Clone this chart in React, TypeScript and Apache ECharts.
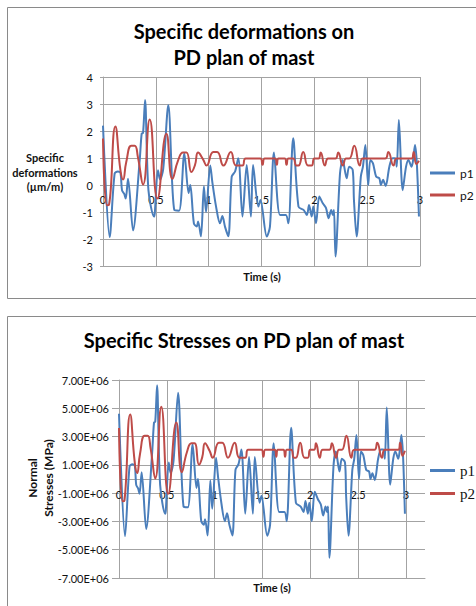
import React, { useEffect, useRef } from "react";
import * as echarts from "echarts";

const SANS = "Lato, 'Open Sans', 'DejaVu Sans', sans-serif";
const SERIF = "'Liberation Serif', 'DejaVu Serif', serif";
const BLUE = "#4a7ebb";
const RED = "#be4b48";
const GRID = "#a3a3a3";

// time (s) of p1 samples
const timeP1 = [
  0, 0.063, 0.11, 0.14, 0.165, 0.18, 0.2, 0.215, 0.237, 0.284,
  0.347, 0.366, 0.379, 0.398, 0.43, 0.483, 0.49, 0.52, 0.54, 0.57,
  0.618, 0.675, 0.72, 0.77, 0.81, 0.826, 0.86, 0.887, 0.9, 0.927,
  0.955, 0.975, 1.015, 1.035, 1.07, 1.107, 1.13, 1.155, 1.186, 1.218,
  1.25, 1.28, 1.32, 1.36, 1.4, 1.42, 1.47, 1.49, 1.55, 1.58,
  1.618, 1.675, 1.73, 1.754, 1.8, 1.85, 1.9, 1.93, 1.95, 1.975,
  1.99, 2.016, 2.047, 2.08, 2.11, 2.135, 2.16, 2.175, 2.186, 2.2,
  2.243, 2.268, 2.306, 2.33, 2.363, 2.375, 2.4, 2.44, 2.46, 2.483,
  2.51, 2.53, 2.555, 2.585, 2.615, 2.63, 2.65, 2.675, 2.71, 2.74,
  2.765, 2.78, 2.8, 2.836, 2.868, 2.89, 2.92, 2.935, 2.953, 2.97, 2.99,
];
// specific deformation p1 (µm/m)
const strainP1 = [
  2.2, -1.93, 0.42, 0.5, 0.45, -0.2, -0.32, -0.5, 0.23, -1.68,
  0.9, 1.9, 1.93, 3.15, -0.19, -1.17, -1.05, 0.55, 0.2, 0.6,
  2.95, -0.93, -0.95, 1.17, -0.3, 0.0, -1.42, -1.54, -1.35, -1.9,
  -0.05, -1.0, 0.72, 0.1, -0.8, -1.42, -1.15, -1.55, -1.9, 0.31,
  0.5, 0.99, -1.17, 0.74, -1.17, 0.74, -0.8, -0.56, -1.91, -1.54,
  1.2, -1.11, -1.11, -1.42, 1.73, -0.8, -0.93, -1.11, -0.74, -1.17,
  -0.8, -1.42, -0.43, -0.68, -0.85, -1.23, -0.93, -1.11, -0.93, -2.65,
  0.43, 0.93, 0.25, 0.68, 0.56, -0.56, -1.91, 0.31, 0.68, 1.48,
  0.0, 0.93, 0.8, 0.31, 0.25, 0.0, 0.19, -0.04, 0.68, 0.99,
  0.99, 0.68, 2.41, -0.19, 0.68, 0.93, 0.68, 0.93, 1.48, 0.8, -1.17,
];
// normal stress p1
const stressP1 = [
  4.62e6, -4.05e6, 0.88e6, 1.05e6, 0.95e6, -0.42e6, -0.67e6, -1.05e6, 0.48e6, -3.53e6,
  1.89e6, 3.99e6, 4.05e6, 6.62e6, -0.4e6, -2.46e6, -2.2e6, 1.16e6, 0.42e6, 1.26e6,
  6.1e6, -1.95e6, -2.0e6, 2.46e6, -0.63e6, 0, -2.98e6, -3.23e6, -2.84e6, -3.99e6,
  -0.1e6, -2.1e6, 1.51e6, 0.21e6, -1.68e6, -2.98e6, -2.42e6, -3.26e6, -3.99e6, 0.65e6,
  1.05e6, 2.08e6, -2.46e6, 1.55e6, -2.46e6, 1.55e6, -1.68e6, -1.18e6, -4.01e6, -3.23e6,
  2.52e6, -2.33e6, -2.33e6, -2.98e6, 3.63e6, -1.68e6, -1.95e6, -2.33e6, -1.55e6, -2.46e6,
  -1.68e6, -2.98e6, -0.9e6, -1.43e6, -1.79e6, -2.58e6, -1.95e6, -2.33e6, -1.95e6, -5.57e6,
  0.9e6, 1.95e6, 0.53e6, 1.43e6, 1.18e6, -1.18e6, -4.01e6, 0.65e6, 1.43e6, 3.11e6,
  0, 1.95e6, 1.68e6, 0.65e6, 0.53e6, 0, 0.4e6, -0.08e6, 1.43e6, 2.08e6,
  2.08e6, 1.43e6, 5.06e6, -0.4e6, 1.43e6, 1.95e6, 1.43e6, 1.95e6, 3.11e6, 1.68e6, -2.46e6,
];

// time (s) of p2 samples
const timeP2 = [
  0, 0.038, 0.057, 0.117, 0.165, 0.19, 0.22, 0.268, 0.3, 0.33,
  0.379, 0.442, 0.515, 0.6, 0.657, 0.71, 0.758, 0.79, 0.837, 0.87,
  0.9, 0.947, 0.98, 1.044, 1.08, 1.14, 1.21, 1.26, 1.32, 1.35,
  1.49, 1.51, 1.53, 1.63, 1.645, 1.66, 1.72, 1.737, 1.755, 1.8,
  1.83, 1.85, 1.895, 1.94, 1.975, 2.0, 2.04, 2.06, 2.1, 2.13,
  2.2, 2.226, 2.27, 2.3, 2.33, 2.378, 2.43, 2.46, 2.67, 2.7,
  2.75, 2.78, 2.92, 2.94, 2.965, 2.99,
];
// specific deformation p2 (µm/m)
const strainP2 = [
  1.72, -0.75, -0.73, 2.17, 0.55, 0.2, 0.85, 1.45, 1.45, 1.04,
  0.02, 2.43, -0.5, 1.9, 0.23, 0.9, 1.2, 1.2, 0.48, 0.73,
  1.2, 0.95, 0.72, 1.22, 1.22, 0.72, 1.22, 0.72, 0.72, 0.98,
  0.98, 0.75, 0.98, 0.98, 0.75, 0.98, 0.98, 0.75, 0.98, 0.98,
  0.72, 0.72, 1.22, 0.72, 0.72, 0.98, 0.98, 1.2, 0.72, 0.98,
  0.98, 1.2, 0.72, 0.98, 0.98, 1.45, 0.72, 0.98, 0.98, 1.22,
  0.72, 0.98, 0.98, 1.22, 0.78, 0.9,
];
// normal stress p2
const stressP2 = [
  3.61e6, -1.58e6, -1.53e6, 4.56e6, 1.16e6, 0.42e6, 1.79e6, 3.05e6, 3.05e6, 2.18e6,
  0.04e6, 5.1e6, -1.05e6, 3.99e6, 0.48e6, 1.89e6, 2.52e6, 2.52e6, 1.01e6, 1.53e6,
  2.52e6, 2.0e6, 1.51e6, 2.56e6, 2.56e6, 1.51e6, 2.56e6, 1.51e6, 1.51e6, 2.06e6,
  2.06e6, 1.58e6, 2.06e6, 2.06e6, 1.58e6, 2.06e6, 2.06e6, 1.58e6, 2.06e6, 2.06e6,
  1.51e6, 1.51e6, 2.56e6, 1.51e6, 1.51e6, 2.06e6, 2.06e6, 2.52e6, 1.51e6, 2.06e6,
  2.06e6, 2.52e6, 1.51e6, 2.06e6, 2.06e6, 3.05e6, 1.51e6, 2.06e6, 2.06e6, 2.56e6,
  1.51e6, 2.06e6, 2.06e6, 2.56e6, 1.64e6, 2.0e6,
];

const zip = (t: number[], v: number[]) => t.map((x, i) => [x, v[i]]);

const sci = (v: number) => {
  if (v === 0) return "0.00E+00";
  const e = Math.floor(Math.log10(Math.abs(v)) + 1e-9);
  const m = v / Math.pow(10, e);
  return `${m.toFixed(2)}E${e < 0 ? "-" : "+"}${String(Math.abs(e)).padStart(2, "0")}`;
};

const labelStyle = { fontSize: 11, fontFamily: SANS, color: "#111" };

const legendItem = (name: string, top: number, fontSize: number, fontFamily: string) => ({
  data: [name],
  orient: "vertical",
  left: 430,
  top,
  padding: 0,
  itemWidth: 25,
  itemHeight: 3,
  itemGap: 0,
  icon: "rect",
  selectedMode: false,
  textStyle: { fontSize, fontFamily, color: "#111" },
});

const lineSeries = (
  name: string,
  color: string,
  idx: number,
  data: number[][],
  smooth: number,
  zeroLine = false
) => ({
  name,
  type: "line",
  xAxisIndex: idx,
  yAxisIndex: idx,
  data,
  symbol: "none",
  showSymbol: false,
  smooth,
  color,
  lineStyle: { width: 2, color },
  emphasis: { disabled: true },
  z: 3,
  ...(zeroLine
    ? {
        markLine: {
          silent: true,
          symbol: "none",
          label: { show: false },
          lineStyle: { color: GRID, type: "solid", width: 1 },
          data: [{ yAxis: 0 }],
          z: 1,
        },
      }
    : {}),
});

export default function App() {
  const ref = useRef<HTMLDivElement>(null);
  useEffect(() => {
    if (!ref.current) return;
    const chart = echarts.init(ref.current, undefined, { renderer: "svg" });
    const boldText = (text: string, x: number, y: number, fontSize: number, lineHeight: number, rotation = 0) => ({
      type: "text",
      x,
      y,
      rotation,
      silent: true,
      style: {
        text,
        fontSize,
        fontWeight: "bold",
        fontFamily: SANS,
        fill: "#111",
        lineHeight,
        align: "center",
        verticalAlign: "middle",
        textAlign: "center",
        textVerticalAlign: "middle",
      },
    });
    chart.setOption({
      animation: false,
      backgroundColor: "#ffffff",
      title: [
        {
          text: "Specific deformations on\nPD plan of mast",
          left: 244,
          top: 18,
          padding: 0,
          textAlign: "center",
          textStyle: { fontFamily: SANS, fontSize: 20, fontWeight: "bold", color: "#000", lineHeight: 26 },
        },
        {
          text: "Specific Stresses on PD plan of mast",
          left: 244,
          top: 327,
          padding: 0,
          textAlign: "center",
          textStyle: { fontFamily: SANS, fontSize: 20, fontWeight: "bold", color: "#000", lineHeight: 26 },
        },
      ],
      legend: [
        legendItem("p1", 167, 12, SANS),
        legendItem("p2", 189, 12, SANS),
        legendItem("p1", 463, 15, SERIF),
        legendItem("p2", 486, 15, SERIF),
      ],
      grid: [
        { left: 103, top: 77, width: 317, height: 189, outerBoundsMode: "none" },
        { left: 119, top: 380, width: 306, height: 198, outerBoundsMode: "none" },
      ],
      xAxis: [
        {
          gridIndex: 0,
          type: "value",
          min: 0,
          max: 3,
          interval: 0.5,
          axisLine: { show: true, onZero: false, lineStyle: { color: GRID } },
          axisTick: { show: false },
          axisLabel: { ...labelStyle, margin: -72 },
          splitLine: { show: true, lineStyle: { color: GRID, width: 1 } },
        },
        {
          gridIndex: 1,
          type: "value",
          min: 0,
          max: 3.2,
          interval: 0.5,
          axisLine: { show: true, onZero: false, lineStyle: { color: GRID } },
          axisTick: { show: false },
          axisLabel: { ...labelStyle, margin: -89, showMaxLabel: false },
          splitLine: { show: true, showMaxLine: false, lineStyle: { color: GRID, width: 1 } },
        },
      ],
      yAxis: [
        {
          gridIndex: 0,
          type: "value",
          min: -3,
          max: 4,
          interval: 1,
          axisLine: { show: true, onZero: false, lineStyle: { color: GRID } },
          axisTick: { show: true, length: 3, lineStyle: { color: GRID } },
          axisLabel: { ...labelStyle, margin: 10 },
          splitLine: { show: true, lineStyle: { color: GRID, width: 1 } },
        },
        {
          gridIndex: 1,
          type: "value",
          min: -7e6,
          max: 7e6,
          interval: 2e6,
          axisLine: { show: true, onZero: false, lineStyle: { color: GRID } },
          axisTick: { show: true, length: 7, lineStyle: { color: GRID } },
          axisLabel: { ...labelStyle, margin: 10, formatter: (v: number) => sci(v) },
          splitLine: { show: true, lineStyle: { color: GRID, width: 1 } },
        },
      ],
      graphic: [
        {
          type: "rect",
          silent: true,
          shape: { x: 7.5, y: 7.5, width: 480, height: 291 },
          style: { fill: "none", stroke: "#8a8a8a", lineWidth: 1 },
        },
        {
          type: "rect",
          silent: true,
          shape: { x: 7.5, y: 316.5, width: 480, height: 300 },
          style: { fill: "none", stroke: "#8a8a8a", lineWidth: 1 },
        },
        boldText("Specific\ndeformations\n(µm/m)", 45, 172, 11, 14.7),
        boldText("Time (s)", 262, 276, 11, 14),
        boldText("Normal\nStresses (MPa)", 40, 478, 12, 16, Math.PI / 2),
        boldText("Time (s)", 272, 587, 11, 14),
      ],
      series: [
        lineSeries("p1", BLUE, 0, zip(timeP1, strainP1), 0.3),
        lineSeries("p2", RED, 0, zip(timeP2, strainP2), 0.5),
        lineSeries("p1", BLUE, 1, zip(timeP1, stressP1), 0.3, true),
        lineSeries("p2", RED, 1, zip(timeP2, stressP2), 0.5),
      ],
    });
    return () => chart.dispose();
  }, []);
  return (
    <div
      ref={ref}
      style={{ position: "absolute", left: 0, top: 0, width: 476, height: 606, background: "#fff" }}
    />
  );
}
